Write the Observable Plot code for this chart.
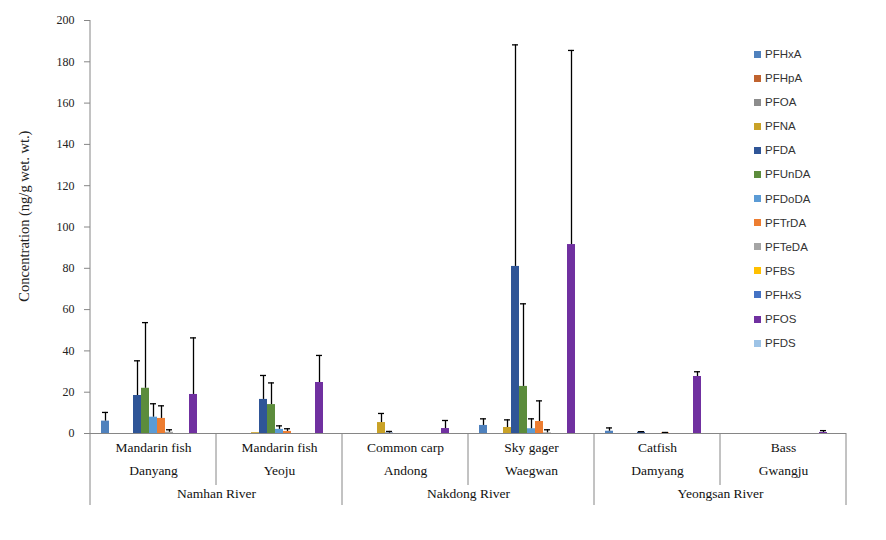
<!DOCTYPE html>
<html>
<head>
<meta charset="utf-8">
<script src="https://cdn.jsdelivr.net/npm/d3@7"></script>
<script src="https://cdn.jsdelivr.net/npm/@observablehq/plot@0.6"></script>
<style>
  body { margin: 0; background: #fff; }
  #wrap { position: relative; width: 886px; height: 540px; }
  #legend { position: absolute; left: 754px; top: 47px; font-family: "Liberation Sans", Arial, sans-serif; font-size: 11.5px; color: #333; }
  #legend .item { height: 24.1px; display: flex; align-items: flex-start; line-height: 14px; }
  #legend .sw { width: 7px; height: 7px; margin-top: 3.5px; margin-right: 4px; }
</style>
</head>
<body>
<div id="wrap"><div id="legend"></div></div>
<script>
const compounds = ["PFHxA","PFHpA","PFOA","PFNA","PFDA","PFUnDA","PFDoDA","PFTrDA","PFTeDA","PFBS","PFHxS","PFOS","PFDS"];
const colors = ["#4F81BD","#C0632F","#8C8C8C","#C9A227","#2F5597","#5C8C3C","#5B9BD5","#ED7D31","#A5A5A5","#FFC000","#4472C4","#7030A0","#9DC3E6"];
const sites = ["Danyang","Yeoju","Andong","Waegwan","Damyang","Gwangju"];
const species = ["Mandarin fish","Mandarin fish","Common carp","Sky gager","Catfish","Bass"];
const rivers = ["Namhan River","Nakdong River","Yeongsan River"];
const riverOfSite = ["Namhan River","Namhan River","Nakdong River","Nakdong River","Yeongsan River","Yeongsan River"];
const yTicks = [0,20,40,60,80,100,120,140,160,180,200];

// mean concentrations (ng/g wet wt.), compound order as above
const danyangMean  = [6.0,0,0,0,18.4,21.9,7.9,7.3,0.6,0,0,18.9,0];
const danyangSD    = [4.2,0,0,0,16.8,31.8,6.5,6.1,1.2,0,0,27.4,0];
const yeojuMean    = [0,0,0,0.4,16.5,14.0,2.0,1.0,0,0,0,24.7,0];
const yeojuSD      = [0,0,0,0,11.6,10.5,1.7,1.3,0,0,0,13.1,0];
const andongMean   = [0,0,0,5.3,0.2,0,0,0,0,0,0,2.4,0];
const andongSD     = [0,0,0,4.4,0.8,0,0,0,0,0,0,3.9,0];
const waegwanMean  = [3.9,0,0,2.9,80.9,22.8,2.3,5.8,0.3,0,0,91.5,0];
const waegwanSD    = [3.2,0,0,3.7,107.3,40.0,4.8,10.0,1.5,0,0,94.0,0];
const damyangMean  = [1.1,0,0,0,0.6,0,0,0.3,0,0,0,27.6,0];
const damyangSD    = [1.6,0,0,0,0.3,0,0,0.2,0,0,0,2.3,0];
const gwangjuMean  = [0,0,0,0,0,0,0,0,0,0,0,0.5,0];
const gwangjuSD    = [0,0,0,0,0,0,0,0,0,0,0,0.9,0];

const means = [danyangMean, yeojuMean, andongMean, waegwanMean, damyangMean, gwangjuMean];
const sds = [danyangSD, yeojuSD, andongSD, waegwanSD, damyangSD, gwangjuSD];

const rows = [];
sites.forEach((s, i) => compounds.forEach((c, j) => rows.push({site: s, compound: c, value: means[i][j], sd: sds[i][j]})));
const errRows = rows.filter(d => d.sd > 0).map(d => ({...d, top: d.value + d.sd}));
const siteRows = sites.map((s, i) => ({site: s, species: species[i], river: riverOfSite[i]}));
const riverRows = siteRows.filter((d, i) => i % 2 === 0);

const W = 886, H = 540, mL = 88, mR = 38, mT = 20, mB = 107;
const axisGray = "#868686";
const serif = "'Liberation Serif', 'Times New Roman', serif";

const chart = Plot.plot({
  width: W, height: H,
  marginLeft: mL, marginRight: mR, marginTop: mT, marginBottom: mB,
  style: {fontFamily: serif, background: "#fff", color: "#222"},
  fx: {domain: sites, padding: 0, axis: null},
  x: {domain: compounds, paddingInner: 0, paddingOuter: 0.55, axis: null},
  y: {domain: [0, 200], axis: null},
  color: {domain: compounds, range: colors},
  marks: [
    Plot.axisY({ticks: yTicks, tickSize: 6, tickPadding: 10, stroke: axisGray, fill: "#222", fontSize: 12, fontFamily: serif, label: null, tickFormat: d => String(d)}),
    Plot.barY(rows, {fx: "site", x: "compound", y: "value", fill: "compound"}),
    Plot.ruleX(errRows, {fx: "site", x: "compound", y1: "value", y2: "top", stroke: "#000", strokeWidth: 1.3}),
    Plot.tickY(errRows, {fx: "site", x: "compound", y: "top", stroke: "#000", strokeWidth: 1.3, insetLeft: 1, insetRight: 1}),
    Plot.ruleY([0], {stroke: axisGray}),
    Plot.text(siteRows, {fx: "site", text: "species", frameAnchor: "bottom", dy: 18, fontSize: 13.5, fontFamily: serif, fill: "#111"}),
    Plot.text(siteRows, {fx: "site", text: "site", frameAnchor: "bottom", dy: 41, fontSize: 13.5, fontFamily: serif, fill: "#111"}),
    Plot.text(riverRows, {fx: "site", text: "river", frameAnchor: "bottom-right", textAnchor: "middle", dy: 64, fontSize: 13.5, fontFamily: serif, fill: "#111"})
  ]
});

const wrap = document.getElementById("wrap");
wrap.insertBefore(chart, wrap.firstChild);

// category table separators and y axis line, placed with the fx / y scales
const fx = chart.scale("fx"), ys = chart.scale("y");
const svg = d3.select(chart);
svg.selectAll("text").attr("font-family", serif).style("font-family", serif);
const y0 = ys.apply(0), yTop = ys.apply(200);
const bw = fx.bandwidth;
const g = svg.append("g").attr("stroke", axisGray).attr("stroke-width", 1);
sites.forEach((s, i) => {
  const x = fx.apply(s);
  const long = i % 2 === 0;
  g.append("line").attr("x1", x).attr("x2", x).attr("y1", i === 0 ? yTop : y0).attr("y2", long ? y0 + 72 : y0 + 52);
});
const xr = fx.apply(sites[sites.length - 1]) + bw;
g.append("line").attr("x1", xr).attr("x2", xr).attr("y1", y0).attr("y2", y0 + 72);

// y axis title
svg.append("text")
  .attr("transform", `translate(26,${ys.apply(105)}) rotate(-90)`)
  .attr("text-anchor", "middle").attr("dominant-baseline", "middle")
  .attr("font-size", 14.5).attr("fill", "#222")
  .attr("font-family", serif)
  .text("Concentration (ng/g wet. wt.)");

// legend
const leg = d3.select("#legend");
compounds.forEach((c, i) => {
  const it = leg.append("div").attr("class", "item");
  it.append("div").attr("class", "sw").style("background", colors[i]);
  it.append("span").text(c);
});
</script>
</body>
</html>
